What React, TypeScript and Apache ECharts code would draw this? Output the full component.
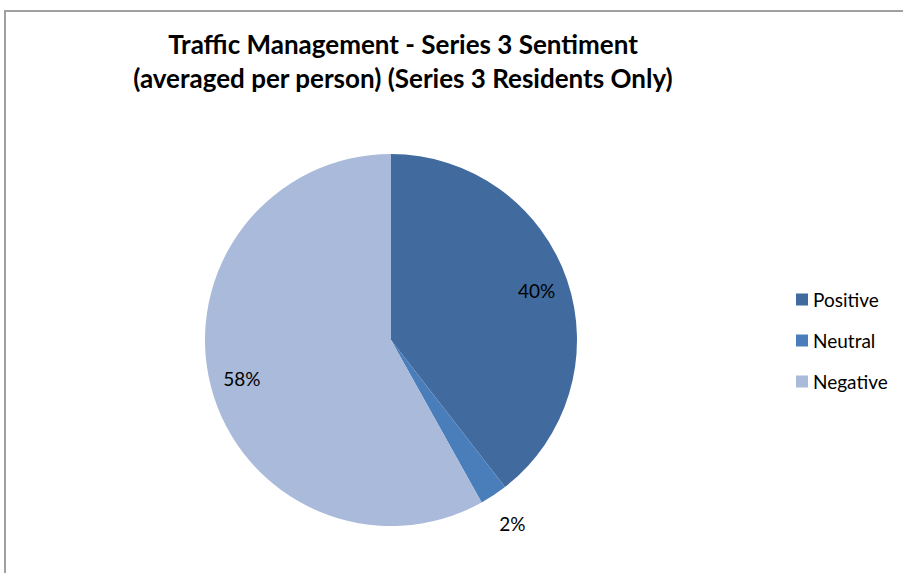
import React, { useEffect, useRef } from "react";
import * as echarts from "echarts";

const titleLines = [
  "Traffic Management - Series 3 Sentiment",
  "(averaged per person) (Series 3 Residents Only)",
];
const categories = ["Positive", "Neutral", "Negative"];
const values = [39.5, 2.4, 58.1];
const colors = ["#416B9E", "#4A7EBB", "#AABADA"];

export default function App() {
  const ref = useRef<HTMLDivElement>(null);
  useEffect(() => {
    if (!ref.current) return;
    const chart = echarts.init(ref.current, null, { renderer: "svg" });
    const font = "Lato, 'Open Sans', sans-serif";
    const mainData = categories.map((name, i) => ({
      name,
      value: values[i],
      itemStyle: { color: colors[i] },
    }));
    const helperBase = {
      type: "pie",
      center: [391, 340],
      startAngle: 90,
      clockwise: true,
      silent: true,
      legendHoverLink: false,
      percentPrecision: 0,
      labelLine: { show: false },
      emphasis: { disabled: true },
      z: 3,
    };
    const labelStyle = {
      show: true,
      position: "inside",
      formatter: "{d}%",
      fontFamily: font,
      fontSize: 19,
      color: "#000000",
    };
    chart.setOption({
      animation: false,
      backgroundColor: "#ffffff",
      title: {
        text: titleLines.join("\n"),
        left: 398,
        top: 22,
        textAlign: "center",
        textStyle: {
          fontFamily: font,
          fontWeight: "bold",
          fontSize: 26,
          lineHeight: 34,
          color: "#000000",
        },
      },
      legend: {
        orient: "vertical",
        left: 791,
        top: 285,
        data: categories,
        icon: "rect",
        itemWidth: 12,
        itemHeight: 12,
        itemGap: 22,
        selectedMode: false,
        textStyle: { fontFamily: font, fontSize: 19, color: "#000000" },
      },
      graphic: [
        {
          type: "rect",
          shape: { x: 5, y: 11, width: 1000, height: 1000 },
          style: { fill: "none", stroke: "#A0A0A0", lineWidth: 2 },
          silent: true,
        },
      ],
      series: [
        {
          type: "pie",
          name: "Sentiment",
          center: [391, 340],
          radius: [0, 186],
          startAngle: 90,
          clockwise: true,
          label: { show: false },
          labelLine: { show: false },
          emphasis: { disabled: true },
          data: mainData,
        },
        {
          ...helperBase,
          name: "labels-inner",
          radius: [0, 302],
          label: labelStyle,
          data: categories.map((name, i) => ({
            name,
            value: values[i],
            itemStyle: { color: "rgba(0,0,0,0)" },
            label: { show: name !== "Neutral" },
          })),
        },
        {
          ...helperBase,
          name: "labels-outer",
          radius: [0, 434],
          label: labelStyle,
          data: categories.map((name, i) => ({
            name,
            value: values[i],
            itemStyle: { color: "rgba(0,0,0,0)" },
            label: { show: name === "Neutral" },
          })),
        },
      ],
    });
    return () => chart.dispose();
  }, []);
  return (
    <div
      ref={ref}
      style={{ position: "absolute", left: 0, top: 0, width: 903, height: 573 }}
    />
  );
}
